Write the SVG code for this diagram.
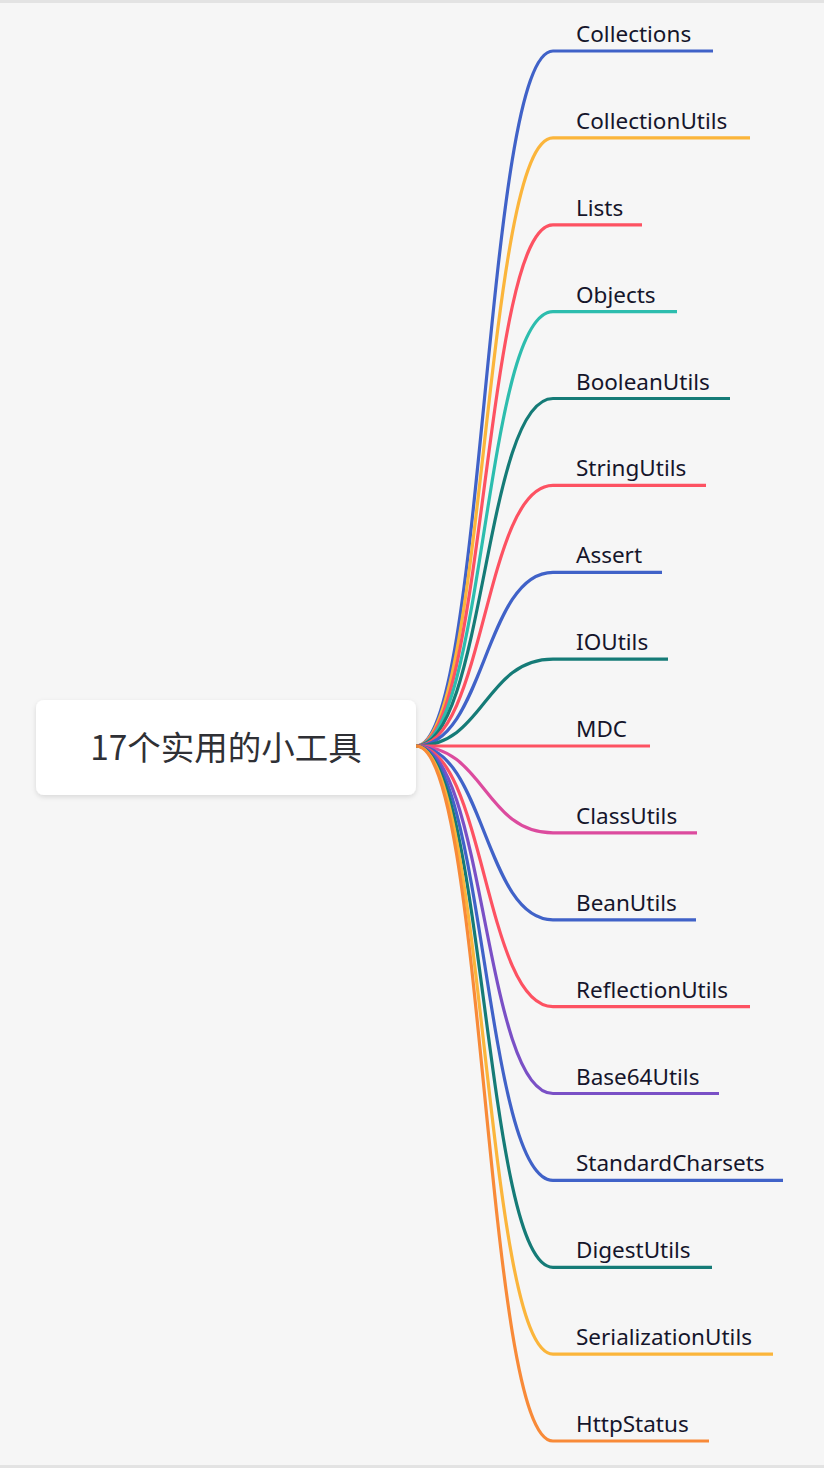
<svg xmlns="http://www.w3.org/2000/svg" width="824" height="1468" viewBox="0 0 824 1468">
<style>
.bg{fill:#f6f6f6}
.band{fill:#e3e3e3}
.root{fill:#ffffff}
.rt{font-family:"Noto Sans CJK SC","Noto Sans",sans-serif;font-size:33.5px;fill:#2f3035}
.lt{font-family:"Noto Sans","Open Sans",sans-serif;font-size:22.5px;fill:#15152b}
.ln{fill:none;stroke-width:3.2}
.b{stroke:#4062c8}.y{stroke:#fbb53b}.r{stroke:#fd5262}.t{stroke:#2dbdae}.d{stroke:#157b77}.p{stroke:#dc4b9e}.u{stroke:#7a50c6}.o{stroke:#f88a38}
</style>
<defs>
<filter id="sh" x="-10%" y="-20%" width="120%" height="150%">
<feDropShadow dx="0" dy="2" stdDeviation="2.5" flood-color="#000" flood-opacity="0.12"/>
</filter>
</defs>
<rect class="bg" x="0" y="0" width="824" height="1468"/>
<rect class="band" x="0" y="0" width="824" height="3"/>
<rect class="band" x="0" y="1465" width="824" height="3"/>
<g id="connectors">
<path class="ln b" d="M416,746 C484.5,746 484.5,51 553,51 H713"/>
<path class="ln y" d="M416,746 C484.5,746 484.5,137.9 553,137.9 H750"/>
<path class="ln r" d="M416,746 C484.5,746 484.5,224.8 553,224.8 H642"/>
<path class="ln t" d="M416,746 C484.5,746 484.5,311.6 553,311.6 H677"/>
<path class="ln d" d="M416,746 C484.5,746 484.5,398.5 553,398.5 H730"/>
<path class="ln r" d="M416,746 C484.5,746 484.5,485.4 553,485.4 H706"/>
<path class="ln b" d="M416,746 C484.5,746 484.5,572.3 553,572.3 H662"/>
<path class="ln d" d="M416,746 C484.5,746 484.5,659.1 553,659.1 H668"/>
<path class="ln r" d="M416,746 C484.5,746 484.5,746 553,746 H650"/>
<path class="ln p" d="M416,746 C484.5,746 484.5,832.9 553,832.9 H697"/>
<path class="ln b" d="M416,746 C484.5,746 484.5,919.8 553,919.8 H696"/>
<path class="ln r" d="M416,746 C484.5,746 484.5,1006.6 553,1006.6 H750"/>
<path class="ln u" d="M416,746 C484.5,746 484.5,1093.5 553,1093.5 H719"/>
<path class="ln b" d="M416,746 C484.5,746 484.5,1180.4 553,1180.4 H783"/>
<path class="ln d" d="M416,746 C484.5,746 484.5,1267.3 553,1267.3 H712"/>
<path class="ln y" d="M416,746 C484.5,746 484.5,1354.1 553,1354.1 H773"/>
<path class="ln o" d="M416,746 C484.5,746 484.5,1441 553,1441 H709"/>
</g>
<g id="root">
<rect class="root" x="36" y="700" width="380" height="95" rx="8" filter="url(#sh)"/>
<text class="rt" x="226" y="760" text-anchor="middle">17个实用的小工具</text>
</g>
<g id="n1"><text class="lt" x="576" y="42">Collections</text></g>
<g id="n2"><text class="lt" x="576" y="128.9">CollectionUtils</text></g>
<g id="n3"><text class="lt" x="576" y="215.8">Lists</text></g>
<g id="n4"><text class="lt" x="576" y="302.6">Objects</text></g>
<g id="n5"><text class="lt" x="576" y="389.5">BooleanUtils</text></g>
<g id="n6"><text class="lt" x="576" y="476.4">StringUtils</text></g>
<g id="n7"><text class="lt" x="576" y="563.3">Assert</text></g>
<g id="n8"><text class="lt" x="576" y="650.1">IOUtils</text></g>
<g id="n9"><text class="lt" x="576" y="737">MDC</text></g>
<g id="n10"><text class="lt" x="576" y="823.9">ClassUtils</text></g>
<g id="n11"><text class="lt" x="576" y="910.8">BeanUtils</text></g>
<g id="n12"><text class="lt" x="576" y="997.6">ReflectionUtils</text></g>
<g id="n13"><text class="lt" x="576" y="1084.5">Base64Utils</text></g>
<g id="n14"><text class="lt" x="576" y="1171.4">StandardCharsets</text></g>
<g id="n15"><text class="lt" x="576" y="1258.3">DigestUtils</text></g>
<g id="n16"><text class="lt" x="576" y="1345.1">SerializationUtils</text></g>
<g id="n17"><text class="lt" x="576" y="1432">HttpStatus</text></g>
</svg>
